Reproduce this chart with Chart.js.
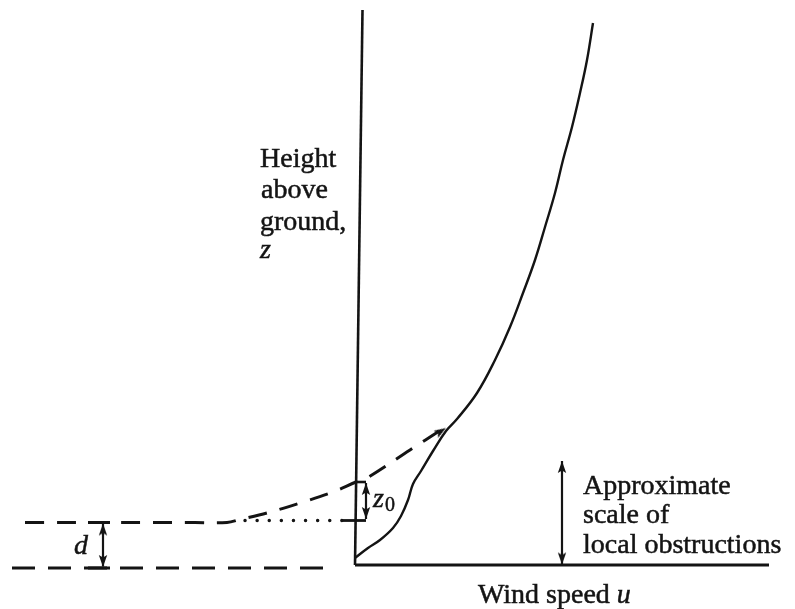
<!DOCTYPE html>
<html>
<head>
<meta charset="utf-8">
<script src="https://cdn.jsdelivr.net/npm/chart.js@4"></script>
<style>
  html, body { margin: 0; padding: 0; background: #fff; }
  #wrap { width: 795px; height: 609px; }
</style>
</head>
<body>
<div id="wrap"><canvas id="c" width="795" height="609"></canvas></div>
<script>
// ---- Data (u = wind speed units, z = height units) ----
// Axes
const zAxisU = [0, 0.75];
const zAxisZ = [0, 55.5];
const uAxisU = [0, 41.4];
const uAxisZ = [0, 0];

// Measured wind profile (solid curve)
const profileU = [0, 1.3, 2.5, 3.8, 4.6, 5.3, 5.8, 6.6, 7.8, 9.1, 10.2, 12.2, 14.0, 15.5, 16.8, 18.0, 19.0, 20.0, 20.8, 21.7, 22.5, 23.2, 23.8];
const profileZ = [0.7, 1.7, 2.5, 3.7, 4.9, 6.5, 8.1, 9.4, 11.4, 13.4, 14.6, 17.2, 20.5, 23.8, 27.2, 30.5, 33.8, 37.2, 40.5, 43.8, 47.2, 50.5, 54.2];

// Extrapolated logarithmic profile (dashed curve, ends at displaced zero-plane d)
const logU = [-33.0, -24.0, -16.0, -12.8, -11.5, -8.8, -5.5, -2.2, 0.1, 1.2, 5.5, 8.6];
const logZ = [4.25, 4.25, 4.25, 4.25, 4.55, 5.2, 6.2, 7.3, 8.3, 8.7, 11.5, 13.5];

// Ground line of the zero-plane (lower dashed)
const groundU = [-34.3, -2.5];
const groundZ = [-0.3, -0.3];

// Dotted continuation at height d
const dottedU = [-11.0, -1.3];
const dottedZ = [4.45, 4.45];

// z0 bracket
const z0BaseU = [-1.3, 1.1];
const z0BaseZ = [4.45, 4.45];
const z0TopU = [0.05, 1.1];
const z0TopZ = [8.3, 8.3];
const z0ArrowU = [1.1, 1.1];
const z0ArrowZ = [8.2, 4.6];

// d marker
const dArrowU = [-25.2, -25.2];
const dArrowZ = [4.1, -0.15];
const dTickTopU = [-26.7, -24.5];
const dTickTopZ = [4.25, 4.25];
const dTickBotU = [-26.7, -24.5];
const dTickBotZ = [-0.3, -0.3];

// Obstruction scale arrow
const obsArrowU = [20.7, 20.7];
const obsArrowZ = [10.4, 0.05];

// Arrow tips
const tipU = [1.1, 1.1, -25.2, -25.2, 20.7, 20.7, 9.1];
const tipZ = [8.2, 4.6, 4.15, -0.2, 10.4, 0.05, 13.7];
const tipAngle = [0, 180, 0, 180, 0, 180, 58];

// Text labels
const labelTexts = ['Height', 'above', 'ground,', 'z', 'Approximate', 'scale of', 'local obstructions', 'd'];
const labelU = [-9.5, -9.4, -9.5, -9.5, 22.8, 22.8, 22.8, -28.1];
const labelZ = [39.8, 36.7, 33.5, 30.7, 7.1, 4.2, 1.2, 1.1];
const labelItalic = [false, false, false, true, false, false, false, true];

// ---- Build ----
const pts = (us, zs) => us.map((u, i) => ({ x: u, y: zs[i] }));
const INK = '#141414';

function arrowHead() {
  const c = document.createElement('canvas');
  c.width = 10; c.height = 26;
  const g = c.getContext('2d');
  g.fillStyle = INK;
  g.beginPath();
  g.moveTo(5, 13);
  g.lineTo(9.2, 25);
  g.lineTo(5, 22.5);
  g.lineTo(0.8, 25);
  g.closePath();
  g.fill();
  return c;
}
const head = arrowHead();

function line(data, opts) {
  return Object.assign({
    data, showLine: true, pointRadius: 0, borderColor: INK, borderWidth: 2.6,
    fill: false, tension: 0, borderCapStyle: 'butt'
  }, opts || {});
}

const datasets = [
  line(pts(zAxisU, zAxisZ), { borderWidth: 2.6 }),
  line(pts(uAxisU, uAxisZ), { borderWidth: 2.8 }),
  line(pts(profileU, profileZ), { tension: 0.4, borderWidth: 2.4 }),
  line(pts(logU, logZ), { tension: 0.35, borderDash: [19, 13], borderWidth: 3 }),
  line(pts(groundU, groundZ), { borderDash: [23, 13], borderWidth: 3 }),
  line(pts(dottedU, dottedZ), { borderDash: [0.1, 12], borderCapStyle: 'round', borderWidth: 3.4 }),
  line(pts(z0BaseU, z0BaseZ), { borderWidth: 2.8 }),
  line(pts(z0TopU, z0TopZ), { borderWidth: 2.6 }),
  line(pts(z0ArrowU, z0ArrowZ), { borderWidth: 2.2 }),
  line(pts(dArrowU, dArrowZ), { borderWidth: 2.2 }),
  line(pts(dTickTopU, dTickTopZ), { borderWidth: 3 }),
  line(pts(dTickBotU, dTickBotZ), { borderWidth: 3 }),
  line(pts(obsArrowU, obsArrowZ), { borderWidth: 2.2 }),
  {
    data: pts(tipU, tipZ), showLine: false, pointStyle: head,
    pointRotation: tipAngle, pointRadius: 6, borderWidth: 0
  }
];

function drawText(ctx, t, px, py) {
  ctx.fillText(t, px, py);
  ctx.strokeText(t, px, py);
}

const textPlugin = {
  id: 'textLabels',
  afterDatasetsDraw(chart) {
    const { ctx, scales: { x, y } } = chart;
    ctx.save();
    ctx.fillStyle = INK;
    ctx.strokeStyle = INK;
    ctx.lineWidth = 0.5;
    ctx.textBaseline = 'alphabetic';
    ctx.textAlign = 'left';
    labelTexts.forEach((t, i) => {
      ctx.font = (labelItalic[i] ? 'italic ' : '') + '28px "Liberation Serif", "DejaVu Serif", serif';
      drawText(ctx, t, x.getPixelForValue(labelU[i]), y.getPixelForValue(labelZ[i]));
    });
    // x-axis title "Wind speed u"
    ctx.font = '28px "Liberation Serif", serif';
    const wx = x.getPixelForValue(12.3), wy = y.getPixelForValue(-3.8);
    drawText(ctx, 'Wind speed ', wx, wy);
    const w = ctx.measureText('Wind speed ').width;
    ctx.font = 'italic 28px "Liberation Serif", serif';
    drawText(ctx, 'u', wx + w, wy);
    // z0 label
    const zx = x.getPixelForValue(1.8), zy = y.getPixelForValue(5.8);
    ctx.font = 'italic 28px "Liberation Serif", serif';
    drawText(ctx, 'z', zx, zy);
    const zw = ctx.measureText('z').width;
    ctx.font = '20px "Liberation Serif", serif';
    drawText(ctx, '0', zx + zw + 1, zy + 4);
    ctx.restore();
  }
};

new Chart(document.getElementById('c'), {
  type: 'scatter',
  data: { datasets },
  options: {
    responsive: false,
    animation: false,
    events: [],
    layout: { padding: 0, autoPadding: false },
    plugins: { legend: { display: false }, tooltip: { enabled: false } },
    scales: {
      x: { type: 'linear', display: false, min: -35.5, max: 44 },
      y: { type: 'linear', display: false, min: -4.4, max: 56.5 }
    }
  },
  plugins: [textPlugin]
});
</script>
</body>
</html>
